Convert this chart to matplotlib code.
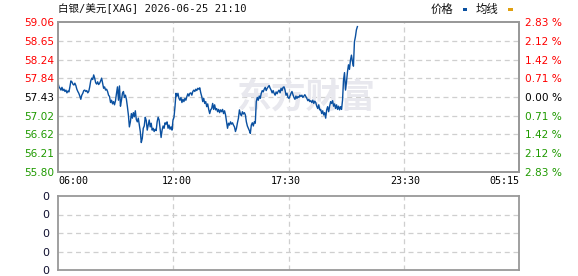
import numpy as np
import matplotlib
matplotlib.use('Agg')
import matplotlib.pyplot as plt
from matplotlib.patches import Rectangle

# ---------------- data ----------------
title = '白银/美元[XAG] 2026-06-25 21:10'
prev_close = 57.43
price_ticks = [55.80, 56.21, 56.62, 57.02, 57.43, 57.84, 58.24, 58.65, 59.06]
pct_labels = ['2.83 %', '2.12 %', '1.42 %', '0.71 %', '0.00 %',
              '0.71 %', '1.42 %', '2.12 %', '2.83 %']
time_labels = ['06:00', '12:00', '17:30', '23:30', '05:15']
time_minutes = [0, 360, 690, 1050, 1395]   # minutes after 06:00
step_minutes = 3
volume_labels = ['0', '0', '0', '0', '0']

prices = [
    57.73, 57.65, 57.62, 57.58, 57.64, 57.57, 57.60, 57.55, 57.58, 57.52,
    57.56, 57.54, 57.65, 57.78, 57.76, 57.71, 57.69, 57.73, 57.68, 57.60,
    57.55, 57.51, 57.45, 57.38, 57.47, 57.51, 57.57, 57.58, 57.55, 57.57,
    57.52, 57.55, 57.65, 57.78, 57.84, 57.81, 57.91, 57.84, 57.74, 57.71,
    57.76, 57.70, 57.73, 57.78, 57.84, 57.73, 57.62, 57.65, 57.58, 57.60,
    57.55, 57.47, 57.44, 57.31, 57.36, 57.28, 57.33, 57.26, 57.35, 57.51,
    57.65, 57.36, 57.67, 57.23, 57.36, 57.51, 57.55, 57.42, 57.47, 57.38,
    57.22, 57.04, 56.78, 56.89, 57.07, 56.97, 57.09, 57.00, 57.13, 56.94,
    56.89, 56.97, 56.82, 56.68, 56.44, 56.53, 56.75, 56.80, 56.99, 56.92,
    56.71, 56.82, 56.93, 56.78, 56.86, 56.71, 56.75, 56.68, 56.73, 56.70,
    56.89, 56.99, 56.93, 56.75, 56.55, 56.71, 56.80, 56.75, 56.87, 56.84,
    56.89, 56.75, 56.82, 56.73, 56.78, 56.71, 56.93, 56.99, 57.22, 57.51,
    57.45, 57.51, 57.40, 57.36, 57.42, 57.31, 57.38, 57.33, 57.40, 57.36,
    57.44, 57.50, 57.45, 57.51, 57.52, 57.47, 57.55, 57.58, 57.55, 57.60,
    57.57, 57.62, 57.60, 57.63, 57.52, 57.44, 57.33, 57.40, 57.29, 57.33,
    57.22, 57.28, 57.16, 57.07, 57.15, 57.18, 57.29, 57.16, 57.26, 57.15,
    57.18, 57.11, 57.16, 57.09, 57.15, 57.11, 57.16, 57.07, 57.13, 57.04,
    56.89, 56.75, 56.86, 56.82, 56.89, 56.84, 56.87, 56.82, 56.78, 56.68,
    56.75, 56.87, 56.97, 57.15, 57.06, 57.02, 57.11, 57.06, 57.09, 57.04,
    56.89, 56.80, 56.75, 56.70, 56.64, 56.82, 56.87, 56.80, 56.89, 56.86,
    57.33, 57.42, 57.36, 57.45, 57.40, 57.51, 57.57, 57.54, 57.60, 57.64,
    57.57, 57.62, 57.65, 57.68, 57.62, 57.58, 57.52, 57.57, 57.51, 57.47,
    57.54, 57.50, 57.55, 57.58, 57.52, 57.62, 57.57, 57.64, 57.65, 57.58,
    57.47, 57.51, 57.42, 57.40, 57.45, 57.51, 57.55, 57.48, 57.42, 57.38,
    57.45, 57.40, 57.44, 57.42, 57.47, 57.44, 57.47, 57.42, 57.45, 57.48,
    57.44, 57.40, 57.35, 57.38, 57.33, 57.35, 57.31, 57.36, 57.29, 57.34,
    57.31, 57.23, 57.18, 57.26, 57.15, 57.16, 57.07, 57.13, 57.04, 57.09,
    56.97, 57.15, 57.22, 57.11, 57.23, 57.33, 57.29, 57.35, 57.23, 57.28,
    57.18, 57.26, 57.16, 57.23, 57.15, 57.22, 57.16, 57.36, 57.80, 57.96,
    57.58, 57.76, 57.98, 58.13, 58.03, 58.23, 58.34, 58.20, 58.10, 58.63,
    58.74, 58.89, 58.96,
]

# ---------------- style ----------------
RED = '#ff0000'
GREEN = '#1f9a00'
BLACK = '#000000'
LINE = '#0a50a0'
SPINE = '#999999'
GRID = '#cfcfcf'

W, H = 578, 276
fig = plt.figure(figsize=(W / 100, H / 100), dpi=100)
fig.patch.set_facecolor('white')

def fx(px):
    return px / W

def fy(py):
    return 1 - py / H

L, R = 58, 519
ax = fig.add_axes([fx(L), fy(172), fx(R - L), (172 - 22) / H])
ax2 = fig.add_axes([fx(L), fy(270), fx(R - L), (270 - 196) / H])

t = np.arange(len(prices)) * step_minutes
xmax = time_minutes[-1]

# main panel
ax.set_xlim(0, xmax)
ax.set_ylim(price_ticks[0], price_ticks[-1])
for yv in price_ticks[1:-1]:
    ax.axhline(yv, color=GRID, lw=0.9, ls=(0, (4, 3)), zorder=1)
for k in range(1, 4):
    ax.axvline(xmax * k / 4, color=GRID, lw=0.9, ls=(0, (4, 3)), zorder=1)

ax.text(0.54, 0.50, '东方财富', transform=ax.transAxes, ha='center', va='center',
        fontsize=25, fontweight='bold', color='#e8e8ee',
        family=['Noto Sans CJK SC'], zorder=2)

ax.plot(t, prices, color=LINE, lw=1.0, zorder=3)

ax.set_yticks(price_ticks)
ax.set_yticklabels([f'{v:.2f}' for v in price_ticks])
for lab, v in zip(ax.get_yticklabels(), price_ticks):
    lab.set_color(RED if v > prev_close + 1e-9 else (BLACK if abs(v - prev_close) < 1e-9 else GREEN))
    lab.set_fontsize(7.6)
ax.tick_params(axis='y', length=0, pad=3)

axr = ax.twinx()
axr.set_ylim(ax.get_ylim())
axr.set_yticks(price_ticks)
axr.set_yticklabels(pct_labels)
for lab, v in zip(axr.get_yticklabels(), price_ticks):
    lab.set_color(RED if v > prev_close + 1e-9 else (BLACK if abs(v - prev_close) < 1e-9 else GREEN))
    lab.set_fontsize(7.6)
axr.tick_params(axis='y', length=0, pad=4)

ax.set_xticks(time_minutes)
ax.set_xticklabels(time_labels, family='DejaVu Sans Mono', fontsize=7.2)
ax.tick_params(axis='x', length=0, pad=3)
xl = ax.get_xticklabels()
xl[0].set_ha('left')
xl[-1].set_ha('right')

for a in (ax, axr):
    for s in a.spines.values():
        s.set_color(SPINE)
        s.set_linewidth(1.3)

# bottom panel
ax2.set_xlim(0, xmax)
ax2.set_ylim(0, 4)
for yv in (1, 2, 3):
    ax2.axhline(yv, color=GRID, lw=0.9, ls=(0, (4, 3)), zorder=1)
for k in range(1, 4):
    ax2.axvline(xmax * k / 4, color=GRID, lw=0.9, ls=(0, (4, 3)), zorder=1)
ax2.set_xticks([])
ax2.set_yticks(range(5))
ax2.set_yticklabels(volume_labels, fontsize=8, color='#101030')
ax2.tick_params(axis='y', length=0, pad=6)
for s in ax2.spines.values():
    s.set_color(SPINE)
    s.set_linewidth(1.3)

# title and legend
fig.text(fx(58), fy(9), title, ha='left', va='center', fontsize=7.6,
         family=['DejaVu Sans Mono', 'Noto Sans CJK SC'], color='#111111')
fig.text(fx(431), fy(9), '价格', ha='left', va='center', fontsize=8.2,
         family=['Noto Sans CJK SC'], color='#111111')
fig.text(fx(476), fy(9), '均线', ha='left', va='center', fontsize=8.2,
         family=['Noto Sans CJK SC'], color='#111111')
fig.patches.append(Rectangle((fx(463), fy(11)), fx(4), 3 / H, transform=fig.transFigure,
                             facecolor='#0a50a0', edgecolor='none'))
fig.patches.append(Rectangle((fx(508), fy(11)), fx(5), 3 / H, transform=fig.transFigure,
                             facecolor='#e0a010', edgecolor='none'))

fig.savefig('out.png', dpi=100, facecolor='white')
